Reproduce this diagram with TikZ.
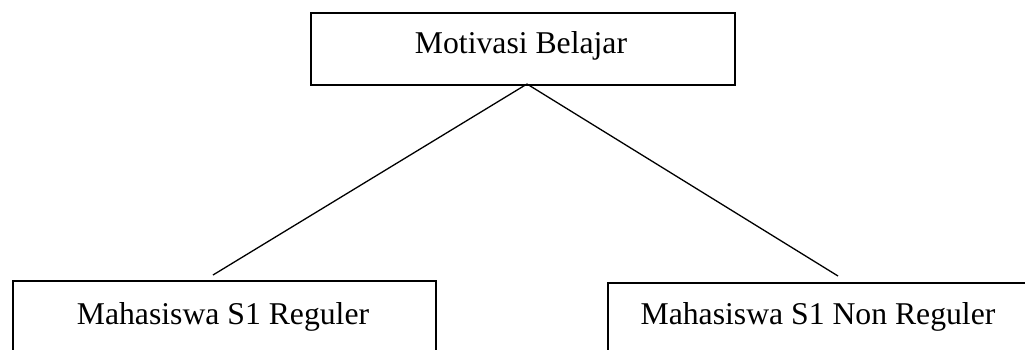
\documentclass[tikz,border=0pt]{standalone}
\usepackage{fontspec}
\setmainfont{Liberation Serif}
\begin{document}
\begin{tikzpicture}[x=1pt,y=1pt,
  boxshape/.style={draw=black,line width=1.6pt,rectangle,inner sep=0pt,anchor=north west},
  lbl/.style={anchor=base,inner sep=0pt,font=\fontsize{31.7}{38}\selectfont},
  conn/.style={draw=black,line width=1.3pt}]
\useasboundingbox (0,0) rectangle (1025,-349);
\clip (0,0) rectangle (1025,-349);
\fill[white] (0,0) rectangle (1025,-349);
% boxes
\node[boxshape,minimum width=424pt,minimum height=72pt] (top) at (310,-12) {};
\node[boxshape,minimum width=423pt,minimum height=120pt] (left) at (12,-280) {};
\node[boxshape,minimum width=460pt,minimum height=120pt] (right) at (607,-282) {};
% labels
\node[lbl] (ttop) at (521,-53) {Motivasi Belajar};
\node[lbl] (tleft) at (223,-324) {Mahasiswa S1 Reguler};
\node[lbl] (tright) at (818,-324) {Mahasiswa S1 Non Reguler};
% connectors
\coordinate (apex) at (527,-84);
\coordinate (endL) at (213,-275);
\coordinate (endR) at (838,-276);
\draw[conn] (apex) -- (endL);
\draw[conn] (apex) -- (endR);
\end{tikzpicture}
\end{document}
